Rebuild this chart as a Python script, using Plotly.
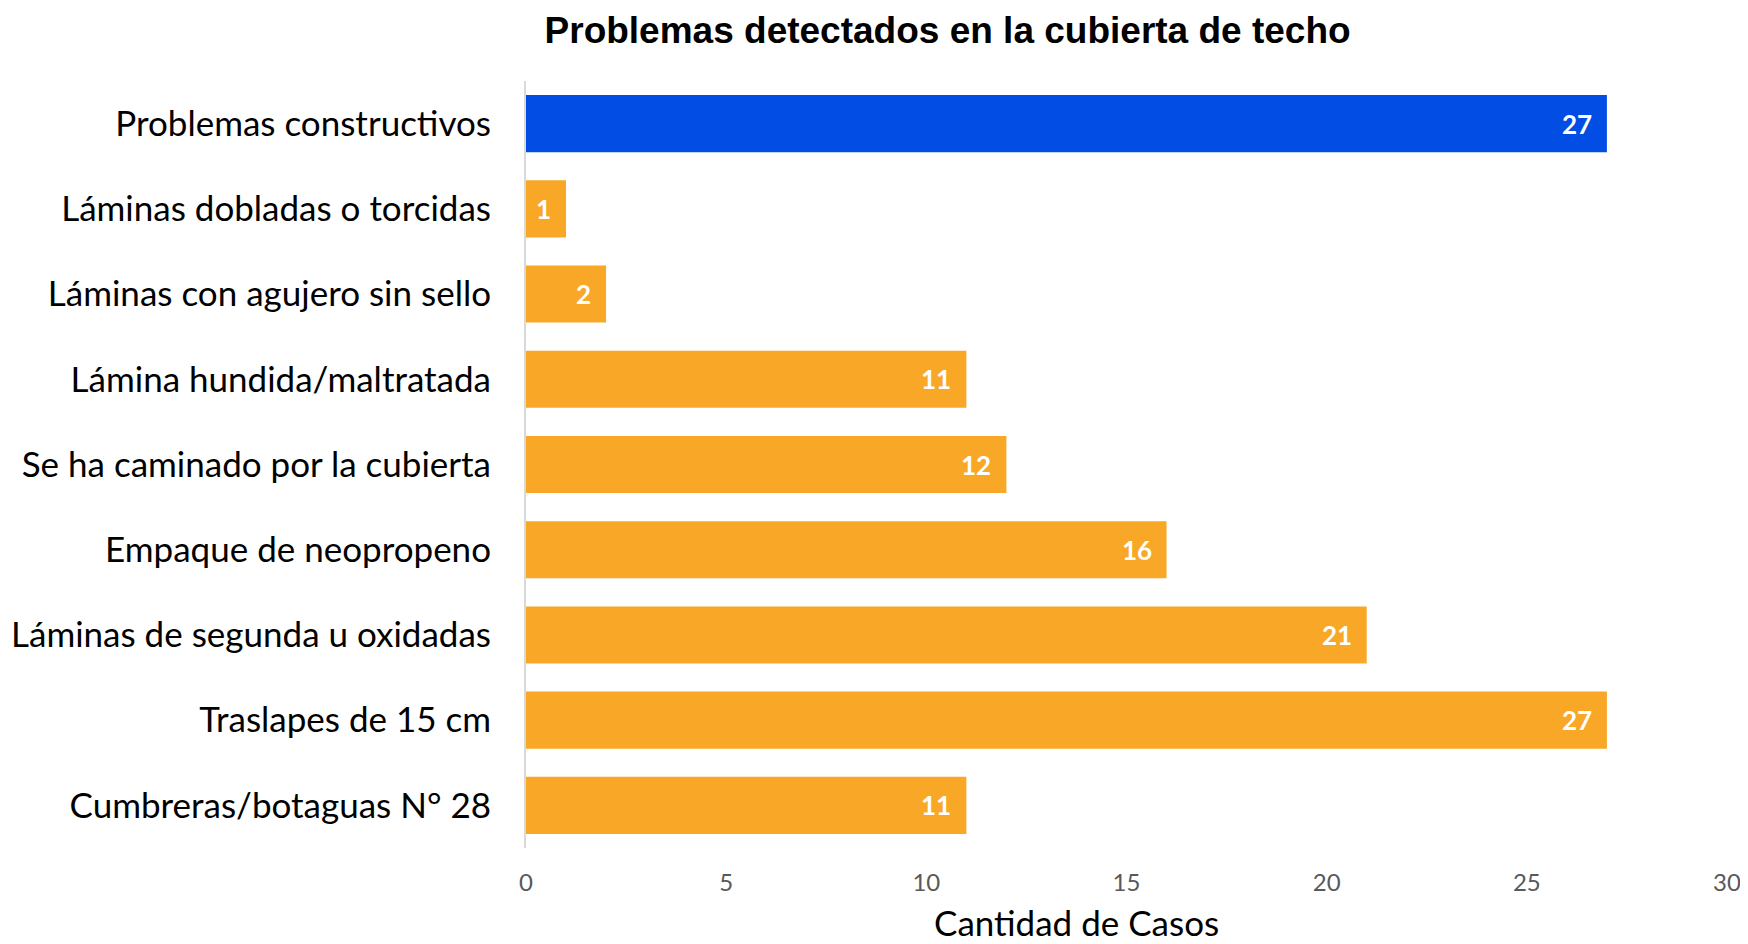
import plotly.graph_objects as go

# datos (de arriba hacia abajo)
categorias = [
    "Problemas constructivos",
    "Láminas dobladas o torcidas",
    "Láminas con agujero sin sello",
    "Lámina hundida/maltratada",
    "Se ha caminado por la cubierta",
    "Empaque de neopropeno",
    "Láminas de segunda u oxidadas",
    "Traslapes de 15 cm",
    "Cumbreras/botaguas N° 28",
]
casos = [27, 1, 2, 11, 12, 16, 21, 27, 11]
x_ticks = [0, 5, 10, 15, 20, 25, 30]

AZUL = "#024DE3"
NARANJA = "#F8A826"
colores = [AZUL] + [NARANJA] * (len(categorias) - 1)

fig = go.Figure()
fig.add_trace(go.Bar(
    x=casos,
    y=categorias,
    orientation="h",
    marker=dict(color=colores, line=dict(width=0)),
    hoverinfo="x+y",
))

# etiquetas de valor dentro de cada barra
for cat, val in zip(categorias, casos):
    fig.add_annotation(
        x=val, y=cat, xref="x", yref="y",
        text=f"<b>{val}</b>",
        showarrow=False,
        xanchor="right", xshift=-13,
        font=dict(family="Lato", size=26, color="white"),
    )

# titulo del eje x (algo a la izquierda del centro, como en el original)
fig.add_annotation(
    x=0.458, y=0, xref="paper", yref="paper",
    text="Cantidad de Casos",
    showarrow=False,
    xanchor="center", yanchor="middle", yshift=-74,
    font=dict(family="Lato", size=35, color="black"),
)

# la pagina tiene 8px de margen en el body: figura un poco mas pequena
fig.update_layout(
    width=1740,
    height=936,
    plot_bgcolor="white",
    paper_bgcolor="white",
    bargap=0.33,
    showlegend=False,
    margin=dict(l=518, r=21, t=73, b=96),
    title=dict(
        text="<b>Problemas detectados en la cubierta de techo</b>",
        font=dict(family="Liberation Sans, Arial", size=37, color="black"),
        x=0.54, xref="container", xanchor="center",
        y=1 - 22 / 936, yref="container", yanchor="middle",
    ),
)

fig.update_xaxes(
    range=[0, 30],
    tickvals=x_ticks,
    showgrid=False,
    zeroline=False,
    showline=False,
    ticks="",
    ticklabelstandoff=18,
    tickfont=dict(family="Lato", size=24, color="#595959"),
    automargin=False,
)

fig.update_yaxes(
    autorange="reversed",
    showgrid=False,
    zeroline=False,
    showline=True,
    linecolor="#D9D9D9",
    linewidth=2,
    ticks="",
    ticklabelstandoff=26,
    tickfont=dict(family="Lato", size=35, color="black"),
    automargin=False,
)

fig.write_html("out.html")
